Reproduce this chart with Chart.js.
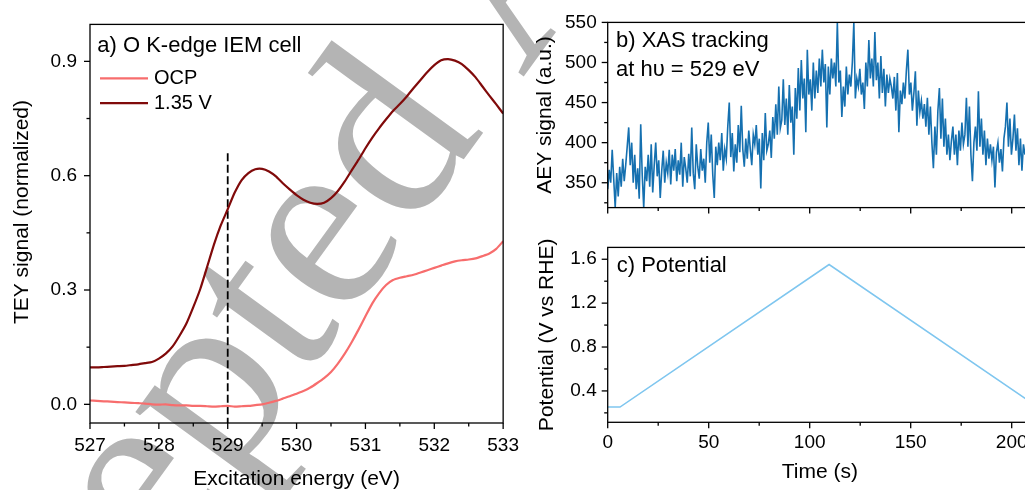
<!DOCTYPE html>
<html>
<head>
<meta charset="utf-8">
<script src="https://cdn.jsdelivr.net/npm/chart.js@4.4.1/dist/chart.umd.min.js"></script>
<style>
  html, body { margin: 0; padding: 0; background: #fff; overflow: hidden; }
  #page { position: relative; width: 1025px; height: 490px; overflow: hidden; }
  canvas { position: absolute; }
</style>
</head>
<body>
<div id="page">
  <canvas id="mark" width="1025" height="490" style="left:0;top:0"></canvas>
  <canvas id="chartA" width="530" height="490" style="left:0;top:0"></canvas>
  <canvas id="chartB" width="520" height="230" style="left:530px;top:0"></canvas>
  <canvas id="chartC" width="520" height="265" style="left:530px;top:225px"></canvas>
</div>
<script>
// a) O K-edge spectra, 0.1 eV steps
const energy = [527.0, 527.1, 527.2, 527.3, 527.4, 527.5, 527.6, 527.7, 527.8, 527.9,
  528.0, 528.1, 528.2, 528.3, 528.4, 528.5, 528.6, 528.7, 528.8, 528.9,
  529.0, 529.1, 529.2, 529.3, 529.4, 529.5, 529.6, 529.7, 529.8, 529.9,
  530.0, 530.1, 530.2, 530.3, 530.4, 530.5, 530.6, 530.7, 530.8, 530.9,
  531.0, 531.1, 531.2, 531.3, 531.4, 531.5, 531.6, 531.7, 531.8, 531.9,
  532.0, 532.1, 532.2, 532.3, 532.4, 532.5, 532.6, 532.7, 532.8, 532.9, 533.0];
const teyOcp = [0.010, 0.009, 0.008, 0.007, 0.006, 0.005, 0.004, 0.003, 0.002, 0.000,
  -0.001, 0.000, -0.002, -0.003, -0.003, -0.004, -0.004, -0.005, -0.006, -0.005,
  -0.004, -0.006, -0.005, -0.004, -0.002, 0.000, 0.004, 0.009, 0.015, 0.021,
  0.028, 0.035, 0.044, 0.056, 0.069, 0.085, 0.107, 0.133, 0.163, 0.196,
  0.231, 0.265, 0.292, 0.313, 0.326, 0.332, 0.336, 0.340, 0.346, 0.352,
  0.358, 0.364, 0.370, 0.375, 0.378, 0.380, 0.383, 0.389, 0.396, 0.408, 0.428];
const tey135 = [0.097, 0.097, 0.098, 0.099, 0.100, 0.101, 0.103, 0.105, 0.108, 0.111,
  0.120, 0.133, 0.152, 0.180, 0.212, 0.255, 0.302, 0.360, 0.419, 0.470,
  0.512, 0.555, 0.588, 0.607, 0.617, 0.618, 0.611, 0.598, 0.580, 0.564,
  0.549, 0.537, 0.529, 0.526, 0.529, 0.541, 0.560, 0.585, 0.614, 0.642,
  0.672, 0.700, 0.725, 0.748, 0.770, 0.788, 0.808, 0.830, 0.851, 0.872,
  0.890, 0.903, 0.906, 0.902, 0.893, 0.877, 0.858, 0.834, 0.810, 0.787, 0.763];
const markerEnergy = 529;
const markerTop = 0.659;
const energyTicks = [527, 528, 529, 530, 531, 532, 533];
const teyTicks = [0, 0.3, 0.6, 0.9];

// b) AEY signal at 529 eV
const xasStep = 0.743; // s between samples
const aeySignal = [
  342, 366, 350, 391, 355, 319, 362, 333, 370, 345, 380, 352, 372,
  395, 419, 372, 400, 350, 385, 342, 368, 330, 423, 360, 319, 370, 352,
  385, 345, 398, 338, 372, 400, 358, 378, 331, 365, 390, 350, 375,
  362, 391, 348, 385, 365, 392, 352, 378, 360, 400, 345, 382, 368, 350,
  386, 358, 419, 362, 342, 398, 370, 355, 392, 365, 380, 350, 400,
  425, 375, 410, 360, 331, 395, 372, 400, 378, 412, 365, 392, 380, 420,
  450, 382, 412, 364, 398, 375, 422, 388, 446, 392, 370, 405, 380,
  415, 392, 372, 410, 398, 422, 385, 405, 343, 412, 378, 437, 390, 398,
  415, 381, 432, 405, 448, 410, 470, 418, 428, 479, 422, 455, 410,
  472, 425, 445, 385, 468, 430, 493, 440, 503, 455, 480, 413, 516, 460,
  479, 440, 500, 455, 490, 462, 505, 470, 516, 475, 498, 419, 495,
  460, 505, 480, 500, 470, 550, 475, 490, 432, 470, 445, 495, 460, 485,
  470, 500, 550, 455, 480, 470, 492, 460, 475, 442, 500, 470, 528,
  480, 505, 470, 538, 478, 500, 455, 508, 462, 492, 445, 485, 462, 480,
  470, 455, 482, 440, 487, 413, 465, 448, 475, 455, 490, 516, 460,
  475, 440, 462, 489, 421, 465, 438, 452, 430, 448, 420, 456, 410, 445,
  400, 368, 420, 385, 440, 468, 405, 455, 395, 430, 385, 410, 378,
  402, 420, 385, 410, 372, 415, 390, 425, 398, 410, 456, 395, 445, 385,
  352, 400, 420, 390, 464, 395, 430, 385, 415, 372, 405, 380, 398,
  378, 395, 344, 388, 400, 375, 392, 364, 405, 420, 450, 395, 430, 385,
  405, 435, 390, 418, 372, 405, 365, 398, 385];
const aeyTicks = [350, 400, 450, 500, 550];

// c) applied potential
const potTime = [0, 6.1, 109.6, 207];
const potValue = [0.253, 0.253, 1.552, 0.328];
const potTicks = [0.4, 0.8, 1.2, 1.6];
const timeTicks = [0, 50, 100, 150, 200];

const FONT = '"Liberation Sans", Arial, sans-serif';
Chart.defaults.font.family = FONT;
Chart.defaults.color = '#000';

// watermark behind everything
const mark = document.getElementById('mark').getContext('2d');
mark.save();
mark.fillStyle = '#b4b4b4';
mark.font = '255px "Liberation Serif", "Times New Roman", serif';
mark.translate(-81, 909);
mark.rotate(-54 * Math.PI / 180);
mark.fillText('Accepted Article', 0, 0);
mark.restore();

// Origin-like box, outward ticks (long + short), captions and legend
const originFrame = {
  id: 'originFrame',
  afterDraw(chart, args, opts) {
    const { ctx, chartArea: area } = chart;
    ctx.save();
    ctx.strokeStyle = '#000';
    ctx.lineWidth = 1.3;
    ctx.strokeRect(area.left, area.top, area.right - area.left, area.bottom - area.top);

    Object.values(chart.scales).forEach(scale => {
      const major = scale.ticks.map(t => t.value);
      const half = (major[1] - major[0]) / 2;
      const minor = [major[0] - half].concat(major.map(v => v + half));
      const inRange = v => v >= scale.min - 1e-9 && v <= scale.max + 1e-9;
      const tick = (v, len) => {
        const p = scale.getPixelForValue(v);
        ctx.beginPath();
        if (scale.isHorizontal()) {
          ctx.moveTo(p, area.bottom);
          ctx.lineTo(p, area.bottom + len);
        } else {
          ctx.moveTo(area.left, p);
          ctx.lineTo(area.left - len, p);
        }
        ctx.stroke();
      };
      major.filter(inRange).forEach(v => tick(v, 6));
      minor.filter(inRange).forEach(v => tick(v, 3.5));
    });

    ctx.fillStyle = '#000';
    ctx.textBaseline = 'alphabetic';
    ctx.font = '22px ' + FONT;
    (opts.captions || []).forEach((line, i) => {
      ctx.fillText(line, area.left + opts.captionX, area.top + opts.captionY + i * 28.5);
    });

    if (opts.legend) {
      ctx.font = '20px ' + FONT;
      ctx.textBaseline = 'middle';
      chart.data.datasets.filter(d => d.label).forEach((d, i) => {
        const y = area.top + 54 + i * 24.7;
        ctx.strokeStyle = d.borderColor;
        ctx.lineWidth = d.borderWidth;
        ctx.beginPath();
        ctx.moveTo(area.left + 10, y);
        ctx.lineTo(area.left + 58, y);
        ctx.stroke();
        ctx.fillText(d.label, area.left + 64, y);
      });
    }
    ctx.restore();
  }
};

function axis(extra) {
  return Object.assign({
    type: 'linear',
    grid: { display: false, drawTicks: false },
    border: { display: false },
  }, extra);
}
function fixedTicks(values) {
  return scale => { scale.ticks = values.map(v => ({ value: v })); };
}

new Chart(document.getElementById('chartA'), {
  type: 'line',
  data: {
    datasets: [
      { label: 'OCP', data: energy.map((e, i) => ({ x: e, y: teyOcp[i] })),
        borderColor: '#f76d6d', borderWidth: 2.2, pointRadius: 0, tension: 0.2 },
      { label: '1.35 V', data: energy.map((e, i) => ({ x: e, y: tey135[i] })),
        borderColor: '#800a0a', borderWidth: 2.2, pointRadius: 0, tension: 0.2 },
      { label: '', data: [{ x: markerEnergy, y: markerTop }, { x: markerEnergy, y: -0.1 }],
        borderColor: '#000', borderWidth: 1.8, borderDash: [8, 3.5], pointRadius: 0 }
    ]
  },
  options: {
    responsive: false,
    animation: false,
    layout: { padding: { left: 0, top: 22, right: 16.7, bottom: 0 } },
    plugins: {
      legend: { display: false },
      tooltip: { enabled: false },
      originFrame: { captions: ['a) O K-edge IEM cell'], captionX: 7.3, captionY: 28, legend: true }
    },
    scales: {
      x: axis({
        min: 527, max: 533,
        afterBuildTicks: fixedTicks(energyTicks),
        afterFit: s => { s.height = 67; },
        ticks: { padding: 11, font: { size: 19 }, maxRotation: 0, autoSkip: false, callback: v => String(v) },
        title: { display: true, text: 'Excitation energy (eV)', font: { size: 21, lineHeight: 1 }, padding: { top: 0, bottom: 0 } }
      }),
      y: axis({
        min: -0.049, max: 0.997,
        afterBuildTicks: fixedTicks(teyTicks),
        afterFit: s => { s.width = 90; },
        ticks: { padding: 13, font: { size: 19 }, autoSkip: false, callback: v => v.toFixed(1) },
        // leading spaces nudge the centred title upwards, as in the original figure
        title: { display: true, text: '\u00a0\u00a0\u00a0\u00a0TEY signal (normalized)', font: { size: 21, lineHeight: 1 }, padding: { top: 12, bottom: 0 } }
      })
    }
  },
  plugins: [originFrame]
});

new Chart(document.getElementById('chartB'), {
  type: 'line',
  data: {
    datasets: [{
      data: aeySignal.map((v, i) => ({ x: i * xasStep, y: v })),
      borderColor: '#1570b0', borderWidth: 1.6, pointRadius: 0, tension: 0
    }]
  },
  options: {
    responsive: false,
    animation: false,
    layout: { padding: { left: 0, top: 21.7, right: 18.1, bottom: 0 } },
    plugins: {
      legend: { display: false },
      tooltip: { enabled: false },
      originFrame: { captions: ['b) XAS tracking', 'at h\u03c5 = 529 eV'], captionX: 8.3, captionY: 25 }
    },
    scales: {
      x: axis({
        min: 0, max: 210,
        afterBuildTicks: fixedTicks(timeTicks),
        afterFit: s => { s.height = 20.7; },
        ticks: { display: false }
      }),
      y: axis({
        min: 319, max: 550,
        afterBuildTicks: fixedTicks(aeyTicks),
        afterFit: s => { s.width = 77.7; },
        ticks: { padding: 11, font: { size: 19 }, autoSkip: false, callback: v => String(v) },
        title: { display: true, text: 'AEY signal (a.u.)', font: { size: 21, lineHeight: 1 }, padding: { top: 5, bottom: 0 } }
      })
    }
  },
  plugins: [originFrame]
});

new Chart(document.getElementById('chartC'), {
  type: 'line',
  data: {
    datasets: [{
      data: potTime.map((t, i) => ({ x: t, y: potValue[i] })),
      borderColor: '#7fc6ef', borderWidth: 1.6, pointRadius: 0, tension: 0
    }]
  },
  options: {
    responsive: false,
    animation: false,
    layout: { padding: { left: 0, top: 10, right: 18.1, bottom: 0 } },
    plugins: {
      legend: { display: false },
      tooltip: { enabled: false },
      originFrame: { captions: ['c) Potential'], captionX: 9, captionY: 25 }
    },
    scales: {
      x: axis({
        min: 0, max: 210,
        afterBuildTicks: fixedTicks(timeTicks),
        afterFit: s => { s.height = 67.7; },
        ticks: { padding: 9, font: { size: 19 }, maxRotation: 0, autoSkip: false, callback: v => String(v) },
        title: { display: true, text: 'Time (s)', font: { size: 21, lineHeight: 1 }, padding: { top: 0, bottom: 7 } }
      }),
      y: axis({
        min: 0.114, max: 1.708,
        afterBuildTicks: fixedTicks(potTicks),
        afterFit: s => { s.width = 77.7; },
        ticks: { padding: 11, font: { size: 19 }, autoSkip: false, callback: v => v.toFixed(1) },
        title: { display: true, text: 'Potential (V vs RHE)', font: { size: 21, lineHeight: 1 }, padding: { top: 7, bottom: 0 } }
      })
    }
  },
  plugins: [originFrame]
});
</script>
</body>
</html>
